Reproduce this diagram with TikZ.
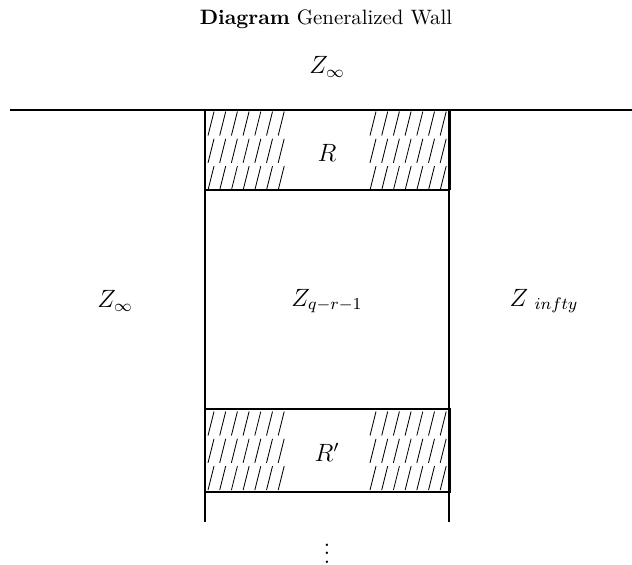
\documentclass[tikz,border=0pt]{standalone}
\begin{document}
\begin{tikzpicture}[x=0.48pt,y=-0.48pt,
  wall/.style={line width=0.9pt},
  hatchline/.style={line width=0.4pt},
  lbl/.style={inner sep=0pt},
  mlbl/.style={inner sep=0pt,font=\large}]
\useasboundingbox (0,0) rectangle (632,564);
% title and labels
\node[lbl] (title) at (326,19) {\textbf{Diagram} Generalized Wall};
\node[mlbl] (ztop) at (327,67) {$Z_\infty$};
\node[mlbl] (zleft) at (115,301) {$Z_\infty$};
\node[mlbl] (zmid) at (327,301) {$Z_{q-r-1}$};
\node[mlbl] (zright) at (544,301) {$Z_{\ infty}$};
\node[mlbl] (R) at (327,153) {$R$};
\node[mlbl] (Rp) at (327,452) {$R'$};
\node[lbl,anchor=south,font=\large] (dots) at (327,563.5) {$\vdots$};
% walls
\coordinate (hl) at (10,110);
\coordinate (hr) at (632,110);
\draw[wall] (hl) -- (hr);
\coordinate (lt) at (205,110);
\coordinate (lb) at (205,522);
\coordinate (rt) at (449,110);
\coordinate (rb) at (449,522);
\draw[wall] (lt) -- (lb);
\draw[wall] (rt) -- (rb);
\draw[wall] (205,190) -- (450,190);
\draw[wall] (450,110) -- (450,190);
\draw[wall] (205,409) -- (450,409) -- (450,492) -- (205,492);
% hatching
\foreach \yt in {110,410}{
  \foreach \xo in {208,370}{
    \foreach \r in {0,1,2}{
      \foreach \k in {0,...,6}{
        \draw[hatchline] ({\xo+\k*11.7},{\yt+\r*27.3+25.5}) -- ({\xo+\k*11.7+6},{\yt+\r*27.3+1.5});
      }
    }
  }
}
\end{tikzpicture}
\end{document}
